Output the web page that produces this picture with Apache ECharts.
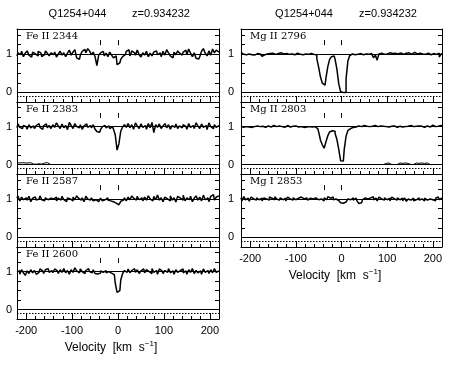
<!DOCTYPE html>
<html><head><meta charset="utf-8">
<script src="https://cdn.jsdelivr.net/npm/echarts@6/dist/echarts.min.js"></script>
<style>html,body{margin:0;padding:0;background:#fff}#c{width:458px;height:369px}</style>
</head><body><div id="c"></div>
<script>
// ---------- DATA ----------
const velocity = [
 -220,-216,-212,-208,-204,-200,-196,-192,-188,-184,
 -180,-176,-172,-168,-164,-160,-156,-152,-148,-144,
 -140,-136,-132,-128,-124,-120,-116,-112,-108,-104,
 -100,-96,-92,-88,-84,-80,-76,-72,-68,-64,
 -60,-56,-52,-48,-44,-40,-36,-32,-28,-24,
 -20,-16,-12,-8,-4,0,4,8,12,16,
 20,24,28,32,36,40,44,48,52,56,
 60,64,68,72,76,80,84,88,92,96,
 100,104,108,112,116,120,124,128,132,136,
 140,144,148,152,156,160,164,168,172,176,
 180,184,188,192,196,200,204,208,212,216,220];

const fluxFeII2344 = [
 0.95,1.03,0.98,1.07,0.93,1.02,1.08,0.97,0.92,1.05,
 1.00,0.95,1.07,1.03,0.93,0.98,1.08,1.02,0.95,1.03,
 0.98,1.05,0.92,1.00,1.07,0.97,1.03,0.93,1.02,1.10,
 0.97,1.05,1.11,0.90,0.86,0.97,1.07,1.12,1.03,1.14,
 1.08,0.98,1.05,0.93,0.70,0.97,1.03,1.07,0.95,1.02,
 0.93,1.05,0.97,0.90,0.95,0.72,0.77,0.86,0.93,0.98,
 1.07,1.11,0.95,1.08,1.03,0.97,1.10,0.98,0.92,1.03,
 0.97,1.07,0.93,1.02,0.95,1.05,1.08,0.98,1.03,0.93,
 1.07,0.97,1.11,1.03,0.95,0.90,1.05,0.98,1.08,1.02,
 0.97,1.05,1.10,0.98,1.13,1.02,0.93,1.03,0.89,0.87,
 0.93,1.07,1.14,1.02,0.95,1.08,0.97,1.13,1.03,1.10,1.05];

const fluxFeII2383 = [
 0.97,1.07,0.98,0.95,1.03,1.00,0.93,1.05,0.97,1.02,
 0.95,1.03,1.08,0.98,0.93,1.02,1.07,0.97,1.03,0.95,
 1.05,0.98,1.10,1.02,0.95,1.07,0.97,1.03,0.92,1.11,
 1.03,0.95,1.08,1.00,0.97,1.05,0.93,1.02,1.07,0.98,
 1.03,0.97,1.05,0.93,0.87,0.85,0.92,1.00,1.03,0.97,
 1.02,0.95,1.00,0.94,0.78,0.38,0.55,0.88,0.99,1.05,
 0.98,1.08,0.97,1.05,0.93,1.10,1.02,0.95,1.07,0.98,
 1.03,0.93,1.08,0.97,1.11,0.84,1.05,0.98,1.07,0.95,
 1.02,1.08,0.97,1.05,0.93,1.03,0.98,1.07,0.95,1.02,
 0.97,1.05,1.00,0.93,1.08,0.98,1.03,0.95,1.10,1.02,
 0.95,1.07,0.98,1.03,0.92,1.10,1.00,0.95,1.05,0.98,1.03];

const fluxFeII2587 = [
 1.02,1.08,0.95,1.05,0.98,1.03,0.97,1.07,0.93,1.02,
 1.05,0.97,1.00,1.08,0.98,0.95,1.03,0.98,1.02,0.97,
 1.00,1.05,0.95,1.02,0.97,1.07,0.98,0.93,1.03,1.00,
 0.95,1.05,0.98,1.08,1.02,0.97,1.03,0.93,1.07,1.00,
 0.97,1.03,0.95,0.98,0.93,0.96,1.02,0.95,0.98,1.03,
 0.97,0.95,0.93,0.92,0.89,0.85,0.89,0.94,0.97,1.03,
 0.95,1.05,0.98,1.08,1.02,0.97,1.07,0.98,1.03,0.95,
 1.05,0.97,1.08,1.00,0.95,1.07,0.98,1.10,0.97,1.03,
 0.93,1.05,1.00,0.95,1.08,0.97,1.03,0.92,1.07,1.02,
 0.97,1.10,0.95,1.03,0.98,1.07,0.93,1.02,1.08,0.97,
 1.05,0.95,1.10,0.98,1.03,0.93,1.07,1.11,0.97,1.05,1.08];

const fluxFeII2600 = [
 0.98,1.03,0.93,1.05,0.97,0.90,1.02,0.95,1.05,0.97,
 1.03,0.93,0.98,1.07,1.02,0.95,1.05,1.08,0.98,1.03,
 0.97,1.07,1.02,0.95,1.05,0.98,1.08,0.97,1.03,0.93,
 1.05,0.98,1.10,1.02,0.97,1.07,1.00,0.95,1.03,1.08,
 1.00,0.97,1.05,0.95,0.94,0.96,1.02,0.98,1.03,0.97,
 1.00,0.96,0.98,0.92,0.70,0.45,0.50,0.78,0.95,1.03,
 0.98,1.07,0.97,1.03,1.08,0.98,1.05,0.95,1.02,1.07,
 0.97,1.05,1.00,0.95,1.08,0.98,1.03,0.93,1.07,1.02,
 0.95,1.03,0.98,1.08,0.97,1.02,0.93,1.05,0.98,1.03,
 1.07,0.97,1.02,0.93,1.05,0.98,1.08,0.95,1.03,0.97,
 1.02,0.93,1.07,0.98,1.03,0.95,1.05,0.97,1.08,0.98,1.02];

const fluxMgII2796 = [
 1.04,0.99,1.02,0.98,1.00,1.01,0.98,0.97,0.99,1.01,
 1.00,0.98,0.94,0.98,1.00,0.99,1.01,1.02,1.00,0.99,
 1.01,0.99,1.03,1.00,1.04,1.01,0.99,1.02,1.00,0.98,
 1.00,1.02,0.99,1.01,0.98,1.00,1.02,0.99,1.01,1.00,
 0.99,0.97,0.88,0.65,0.40,0.24,0.19,0.38,0.67,0.86,
 0.93,0.95,0.86,0.60,0.22,0.02,0.00,0.00,0.35,0.82,
 0.96,1.00,0.98,1.02,0.99,1.01,1.03,0.98,1.00,1.02,
 0.99,1.01,0.97,0.90,0.97,0.84,1.00,1.02,0.99,1.01,
 1.00,1.03,0.99,1.01,1.02,0.98,1.00,1.03,1.01,0.99,
 1.02,1.00,1.03,0.99,1.01,1.04,1.00,0.98,1.02,1.00,
 1.01,0.99,1.02,1.00,0.98,1.01,1.00,0.99,1.02,0.92,1.00];

const fluxMgII2803 = [
 1.01,0.98,0.96,1.00,0.99,1.01,0.98,1.00,0.99,1.02,
 1.00,0.99,1.01,0.98,1.00,1.02,0.99,1.01,1.03,1.00,
 0.99,1.02,1.00,1.05,0.98,1.03,1.00,0.99,1.01,1.00,
 1.02,0.99,1.01,1.00,0.98,1.01,0.99,1.00,1.02,0.99,
 1.00,0.99,0.95,0.86,0.64,0.52,0.43,0.60,0.76,0.86,
 0.89,0.88,0.82,0.66,0.40,0.10,0.09,0.40,0.75,0.90,
 0.95,0.98,1.00,0.99,1.02,0.98,1.00,1.03,0.99,1.01,
 1.00,0.98,1.01,1.03,0.99,1.00,1.02,0.98,1.01,1.00,
 1.04,0.99,1.01,1.00,1.02,0.98,1.00,1.01,0.99,1.02,
 1.00,1.01,0.99,1.03,1.00,0.98,1.01,1.02,0.99,1.01,
 0.98,1.00,1.02,0.99,1.01,1.04,1.00,0.98,1.01,1.03,1.00];

const fluxMgI2853 = [
 1.03,0.95,1.06,0.98,1.02,0.94,1.05,1.00,0.97,1.03,
 0.98,1.02,0.95,1.03,1.00,0.97,1.05,1.02,0.98,1.06,
 1.00,0.97,1.03,0.98,1.02,0.95,1.05,1.00,0.97,1.03,
 0.98,1.02,0.97,1.05,1.00,0.98,1.03,0.97,1.02,1.00,
 0.97,1.03,0.98,1.02,1.00,0.95,1.03,0.98,1.06,1.02,
 1.05,0.98,1.00,0.96,0.93,0.90,0.89,0.92,0.97,1.00,
 0.98,1.03,0.97,1.02,0.95,0.88,0.90,0.98,1.03,1.00,
 0.97,1.03,1.06,0.98,1.02,0.95,1.05,1.00,0.97,1.03,
 0.98,1.02,0.95,1.05,1.00,0.97,1.03,0.98,1.02,0.95,
 1.03,0.94,1.00,0.97,1.02,0.95,0.98,1.03,0.97,1.00,
 0.95,1.02,0.97,1.00,1.03,0.98,0.95,1.02,1.05,0.98,1.03];

// error spectra (only the parts visible above the zero line)
const sigmaFeII2383Velocity = [-220,-216,-212,-208,-204,-200,-196,-192,-188,-184,-180,-176,-172,-168,-164,-160,-156,-152,-148];
const sigmaFeII2383 = [0.05,0.04,0.05,0.05,0.04,0.05,0.04,0.05,0.02,0.01,0.01,0.01,0.02,0.01,0.04,0.04,0.05,0.04,0.01];
const sigmaMgII2803Velocity = [92,96,100,104,108,112,116,120,124,128,132,136,140,144,148,152,156,160,164,168,172,176,180,184,188,192,196,200];
const sigmaMgII2803 = [0.0,0.03,0.03,0.04,0.0,0.0,0.0,0.0,0.0,0.04,0.03,0.04,0.04,0.03,0.04,0.0,0.0,0.03,0.04,0.03,0.03,0.04,0.03,0.03,0.04,0.0,0.0,0.0];

const panelNames = ['Fe II 2344','Fe II 2383','Fe II 2587','Fe II 2600','Mg II 2796','Mg II 2803','Mg I 2853'];
const markerVelocities = [-38, 0];
const xTickLabels = [-200, -100, 0, 100, 200];
const yTickLabels = [0, 1];
const titleQso = 'Q1254+044';
const titleZ = 'z=0.934232';

// ---------- LAYOUT ----------
const fluxes = [fluxFeII2344, fluxFeII2383, fluxFeII2587, fluxFeII2600, fluxMgII2796, fluxMgII2803, fluxMgI2853];
const sigmas = {1: [sigmaFeII2383Velocity, sigmaFeII2383], 5: [sigmaMgII2803Velocity, sigmaMgII2803]};
const cols = [{left: 17, width: 202}, {left: 241, width: 201}];
const tops = [29, 102, 174, 247];
const bottoms = [102, 174, 247, 319];
const place = [[0,0],[0,1],[0,2],[0,3],[1,0],[1,1],[1,2]];
const lastRow = [3, 2];
const FONT = '"Liberation Sans", Arial, sans-serif';

const grid = [], xAxis = [], yAxis = [], series = [], graphic = [];
place.forEach(([c, r], i) => {
  grid.push({left: cols[c].left, top: tops[r], width: cols[c].width, height: bottoms[r] - tops[r], show: false});
  const isBottom = r === lastRow[c];
  xAxis.push({gridIndex: i, type: 'value', min: -220, max: 220, interval: 20, position: 'bottom',
    axisLine: {show: true, onZero: false, lineStyle: {color: '#000', width: 1}},
    axisTick: {show: true, inside: true, length: 3, lineStyle: {color: '#000'}},
    axisLabel: {show: false}, splitLine: {show: false}});
  xAxis.push({gridIndex: i, type: 'value', min: -220, max: 220, position: 'bottom',
    axisLine: {show: false, onZero: false},
    axisTick: {show: true, inside: true, length: 6, customValues: xTickLabels, lineStyle: {color: '#000'}},
    axisLabel: {show: isBottom, customValues: xTickLabels, fontSize: 11, color: '#000', fontFamily: FONT, margin: 6},
    splitLine: {show: false}});
  xAxis.push({gridIndex: i, type: 'value', min: -220, max: 220, position: 'top',
    axisLine: {show: true, onZero: false, lineStyle: {color: '#000', width: 1}},
    axisTick: {show: false}, axisLabel: {show: false}, splitLine: {show: false}});
  yAxis.push({gridIndex: i, type: 'value', min: -0.25, max: 1.65, interval: 0.25, position: 'left',
    axisLine: {show: true, onZero: false, lineStyle: {color: '#000', width: 1}},
    axisTick: {show: true, inside: true, length: 4, lineStyle: {color: '#000'}},
    axisLabel: {show: true, customValues: yTickLabels, fontSize: 11, color: '#000', fontFamily: FONT, margin: c === 0 ? 5 : 7},
    splitLine: {show: false}});
  yAxis.push({gridIndex: i, type: 'value', min: -0.25, max: 1.65, interval: 0.25, position: 'right',
    axisLine: {show: true, onZero: false, lineStyle: {color: '#000', width: 1}},
    axisTick: {show: true, inside: true, length: 4, lineStyle: {color: '#000'}},
    axisLabel: {show: false}, splitLine: {show: false}});

  const markData = [
    {yAxis: 0, lineStyle: {type: 'solid', width: 1, color: '#000'}},
    {yAxis: 1, lineStyle: {type: 'solid', width: 1, color: '#000'}},
    {yAxis: -0.09, lineStyle: {type: [1.5, 1.5], width: 1, color: '#000'}}
  ];
  markerVelocities.forEach(v => markData.push([{coord: [v, 1.23], lineStyle: {type: 'solid', width: 1, color: '#000'}}, {coord: [v, 1.36]}]));

  series.push({type: 'line', xAxisIndex: 3 * i, yAxisIndex: 2 * i, step: 'middle', showSymbol: false, symbol: 'none',
    data: velocity.map((v, k) => [v, fluxes[i][k]]), clip: true,
    lineStyle: {color: '#000', width: 1.5}, z: 3,
    markLine: {silent: true, symbol: ['none', 'none'], label: {show: false}, animation: false, data: markData}});
  if (sigmas[i]) {
    const [sv, s] = sigmas[i];
    series.push({type: 'line', xAxisIndex: 3 * i, yAxisIndex: 2 * i, step: 'middle', showSymbol: false, symbol: 'none',
      data: sv.map((v, k) => [v, s[k]]), lineStyle: {color: '#000', width: 1}, z: 2});
  }
  graphic.push({type: 'text', left: cols[c].left + 9, top: tops[r] + 2,
    style: {text: panelNames[i], font: '10px "DejaVu Serif", serif', fill: '#000'}});
});

[[77.5, 161], [304, 388]].forEach(([a, b]) => {
  graphic.push({type: 'text', x: a, y: 14, style: {text: titleQso, font: '11px ' + FONT, fill: '#000', align: 'center', verticalAlign: 'middle'}});
  graphic.push({type: 'text', x: b, y: 14, style: {text: titleZ, font: '11px ' + FONT, fill: '#000', align: 'center', verticalAlign: 'middle'}});
});
[[111, 347], [335, 275]].forEach(([x, y]) => {
  graphic.push({type: 'text', x: x, y: y, style: {
    text: '{a|Velocity  [km  s}{b|−1}{a|]}', align: 'center', verticalAlign: 'middle', fill: '#000',
    rich: {a: {fontSize: 12, fontFamily: FONT, lineHeight: 14, verticalAlign: 'bottom'},
           b: {fontSize: 8, fontFamily: FONT, verticalAlign: 'top', lineHeight: 14}}}});
});

const chart = echarts.init(document.getElementById('c'), null, {renderer: 'canvas'});
chart.setOption({animation: false, backgroundColor: '#fff', grid, xAxis, yAxis, series, graphic});
</script></body></html>
